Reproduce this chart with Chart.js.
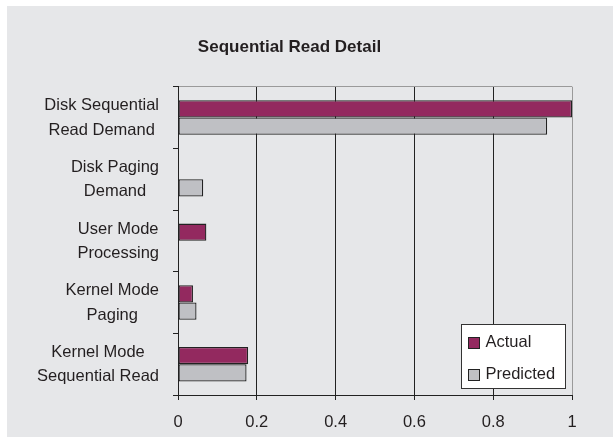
<!DOCTYPE html>
<html>
<head>
<meta charset="utf-8">
<script src="https://cdn.jsdelivr.net/npm/chart.js@4.4.0/dist/chart.umd.min.js"></script>
<style>
  html, body { margin: 0; padding: 0; background: #ffffff; }
  #wrap {
    position: absolute; left: 7px; top: 6px;
    width: 606px; height: 431px;
    background: #e6e7e9;
  }
</style>
</head>
<body>
<div id="wrap"><canvas id="chart"></canvas></div>
<script>
// --- DATOS ---
const categories = [
  ['Disk Sequential', 'Read Demand'],
  ['Disk Paging', 'Demand'],
  ['User Mode', 'Processing'],
  ['Kernel Mode', 'Paging'],
  ['Kernel Mode', 'Sequential Read']
];
const actual = [1.0, 0, 0.072, 0.038, 0.178];
const predicted = [0.937, 0.064, 0, 0.047, 0.174];
const xTicks = [0, 0.2, 0.4, 0.6, 0.8, 1];

const FONT = '"Liberation Sans", Arial, sans-serif';
const TEXT = '#231f20';
const FONT_SIZE = 16.5;

// Etiquetas del eje Y: bloque alineado a la derecha, líneas centradas
const yLabelsPlugin = {
  id: 'yLabels',
  afterDraw(chart) {
    const ctx = chart.ctx;
    const y = chart.scales.y;
    const rightEdge = chart.chartArea.left - 19;
    ctx.save();
    ctx.font = FONT_SIZE + 'px ' + FONT;
    ctx.fillStyle = TEXT;
    ctx.textAlign = 'center';
    ctx.textBaseline = 'middle';
    chart.data.labels.forEach((lines, i) => {
      const cy = y.getPixelForValue(i) + 0.5;
      const w = Math.max(...lines.map(l => ctx.measureText(l).width));
      const cx = rightEdge - w / 2;
      lines.forEach((line, j) => {
        ctx.fillText(line, cx, cy + (j - (lines.length - 1) / 2) * 24.5);
      });
    });
    ctx.restore();
  }
};

// Leyenda dentro del área del gráfico
const boxLegendPlugin = {
  id: 'boxLegend',
  afterDraw(chart) {
    const ctx = chart.ctx;
    const area = chart.chartArea;
    const w = 104, h = 64;
    const left = Math.round(area.right - 7 - w) + 0.5;
    const top = Math.round(area.bottom - 7 - h) + 0.5;
    ctx.save();
    ctx.fillStyle = '#ffffff';
    ctx.fillRect(left, top, w, h);
    ctx.strokeStyle = '#333333';
    ctx.lineWidth = 1;
    ctx.strokeRect(left, top, w, h);
    ctx.font = FONT_SIZE + 'px ' + FONT;
    ctx.textBaseline = 'middle';
    chart.data.datasets.forEach((ds, i) => {
      const cy = top + 18 + i * 32;
      ctx.fillStyle = ds.backgroundColor;
      ctx.fillRect(left + 7, Math.round(cy - 6) + 0.5, 11, 11);
      ctx.strokeStyle = '#222222';
      ctx.strokeRect(left + 7, Math.round(cy - 6) + 0.5, 11, 11);
      ctx.fillStyle = TEXT;
      ctx.fillText(ds.label, left + 24, cy);
    });
    ctx.restore();
  }
};

new Chart(document.getElementById('chart').getContext('2d'), {
  type: 'bar',
  data: {
    labels: categories,
    datasets: [
      {
        label: 'Actual',
        data: actual,
        backgroundColor: '#93295f',
        borderColor: '#222222',
        borderWidth: 1.3,
        borderSkipped: false
      },
      {
        label: 'Predicted',
        data: predicted,
        backgroundColor: '#bfc0c4',
        borderColor: '#222222',
        borderWidth: 1.3,
        borderSkipped: false
      }
    ]
  },
  options: {
    indexAxis: 'y',
    responsive: true,
    maintainAspectRatio: false,
    animation: false,
    datasets: { bar: { barPercentage: 1, categoryPercentage: 0.56 } },
    layout: { padding: { top: 0, left: 0, right: 41, bottom: 0 } },
    scales: {
      x: {
        min: 0,
        max: 1,
        afterBuildTicks: (scale) => { scale.ticks = xTicks.map(v => ({ value: v })); },
        afterFit: (scale) => { scale.height = 42; },
        ticks: {
          color: TEXT,
          font: { family: FONT, size: FONT_SIZE },
          padding: 13,
          maxRotation: 0,
          callback: (v) => String(v)
        },
        grid: {
          color: (c) => (c.tick && c.tick.value === 1 ? '#9a9a9a' : '#222222'),
          tickColor: '#222222',
          tickLength: 5,
          lineWidth: 1
        },
        border: { display: true, color: '#222222', width: 1 }
      },
      y: {
        ticks: { display: false },
        afterFit: (scale) => { scale.width = 171; },
        grid: {
          offset: true,
          drawOnChartArea: true,
          color: (c) => (c.index === 0 ? '#9a9a9a' : 'rgba(0,0,0,0)'),
          tickColor: '#222222',
          tickLength: 5
        },
        border: { display: true, color: '#222222', width: 1 }
      }
    },
    plugins: {
      legend: { display: false },
      tooltip: { enabled: false },
      title: {
        display: true,
        text: 'Sequential Read Detail',
        color: TEXT,
        font: { family: FONT, size: 17, weight: 'bold' },
        padding: { top: 31.3, bottom: 29 }
      }
    }
  },
  plugins: [yLabelsPlugin, boxLegendPlugin]
});
</script>
</body>
</html>
